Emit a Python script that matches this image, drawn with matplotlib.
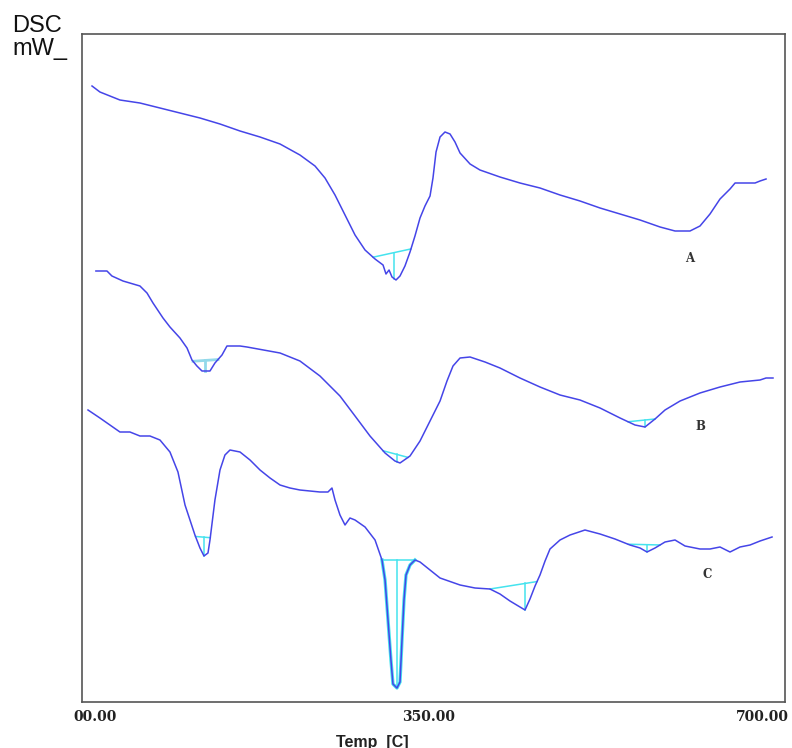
import numpy as np
import matplotlib
matplotlib.use("Agg")
from matplotlib import pyplot as plt

# temperatures (C) and DSC signal (arbitrary units, offset per trace)
temp_a = [-3.1, 5.2, 15.7, 26.2, 47.2, 68.2, 89.2, 110.2, 131.2, 152.2, 173.2, 194.2,
          215.1, 230.9, 241.4, 251.9, 262.4, 272.9, 283.4, 293.9, 302.3, 305.4, 308.6,
          311.7, 315.9, 320.1, 325.3, 330.6, 335.8, 341.1, 346.3, 351.6, 354.7, 357.9,
          362.1, 367.3, 372.6, 377.8, 383.1, 393.6, 404.0, 425.0, 446.0, 467.0, 488.0,
          509.0, 530.0, 551.0, 572.0, 593.0, 608.7, 624.4, 634.9, 645.4, 655.9, 666.4,
          671.7, 692.7, 697.9, 704.2]
sig_a = [616, 610, 606, 602, 599, 594, 589, 584, 578, 571, 565, 558,
         547, 536, 524, 507, 487, 467, 452, 443, 437, 428, 432,
         425, 422, 426, 436, 450, 466, 484, 496, 506, 524, 550,
         565, 570, 568, 560, 549, 538, 532, 525, 519, 514, 507,
         501, 494, 488, 482, 475, 471, 471, 476, 488, 503, 513,
         519, 519, 521, 523]

temp_b = [1.0, 12.6, 17.8, 29.4, 47.2, 54.6, 60.9, 71.4, 78.7, 89.2, 96.6, 101.8,
          107.0, 112.3, 120.7, 125.9, 133.3, 138.5, 152.2, 159.5, 194.2, 215.1, 236.1,
          257.1, 272.9, 288.6, 304.4, 314.8, 320.1, 330.6, 341.1, 351.6, 362.1, 369.4,
          375.7, 383.1, 393.6, 409.3, 425.0, 446.0, 467.0, 488.0, 509.0, 530.0, 551.0,
          566.7, 577.2, 587.7, 598.2, 614.0, 634.9, 655.9, 676.9, 697.9, 704.2, 711.5]
sig_b = [431, 431, 426, 421, 416, 409, 399, 384, 375, 364, 354, 342,
         336, 331, 331, 339, 347, 356, 356, 355, 349, 341, 326,
         306, 286, 266, 249, 241, 239, 246, 261, 281, 301, 321,
         336, 344, 345, 340, 334, 324, 315, 307, 302, 294, 284,
         277, 275, 283, 292, 301, 309, 315, 320, 322, 324, 324]

temp_c = [-7.3, 5.2, 15.7, 26.2, 36.7, 47.2, 57.7, 68.2, 78.7, 87.1, 94.5, 99.7,
          104.9, 110.2, 114.4, 118.6, 120.7, 125.9, 131.2, 136.4, 141.7, 152.2, 162.7,
          173.2, 183.7, 194.2, 204.6, 215.1, 236.1, 244.5, 248.7, 251.9, 257.1, 262.4,
          267.6, 272.9, 283.4, 293.9, 301.2, 304.4, 307.5, 310.6, 312.7, 316.9, 320.1,
          322.2, 324.3, 326.4, 330.6, 335.8, 341.1, 351.6, 362.1, 383.1, 398.8, 414.5,
          425.0, 435.5, 446.0, 451.3, 456.5, 461.8, 467.0, 472.3, 477.5, 488.0, 498.5,
          514.2, 530.0, 545.7, 561.4, 572.0, 579.3, 587.7, 598.2, 608.7, 619.2, 634.9,
          645.4, 655.9, 666.4, 676.9, 687.4, 697.9, 710.5]
sig_c = [292, 284, 277, 270, 270, 266, 266, 262, 250, 230, 197, 182,
         167, 154, 146, 149, 162, 202, 232, 247, 252, 250, 242,
         232, 224, 217, 214, 212, 210, 210, 214, 202, 187, 177,
         184, 182, 175, 162, 142, 122, 82, 42, 18, 14, 20,
         62, 102, 127, 137, 142, 140, 132, 124, 117, 114, 113,
         108, 101, 95, 92, 103, 116, 127, 141, 153, 162, 167,
         172, 168, 163, 157, 154, 150, 154, 160, 162, 156, 153,
         153, 155, 150, 155, 157, 161, 165]

# integrated peaks: (trace, onset, endset, peak temperature)
peaks = [
    ("A", 291.8, 331.6, 313.8),
    ("B", 102.9, 129.1, 115.4),
    ("B", 302.3, 328.5, 316.9),
    ("B", 559.4, 587.7, 577.2),
    ("C", 105.5, 121.0, 114.4),
    ("C", 301.2, 335.8, 316.9),
    ("C", 414.5, 463.9, 451.3),
    ("C", 559.4, 593.0, 579.3),
]

trace_labels = {"A": (624.4, 444), "B": (634.9, 276), "C": (642.3, 128)}

curves = {"A": (temp_a, sig_a), "B": (temp_b, sig_b), "C": (temp_c, sig_c)}

blue = "#4545e8"
cyan = "#45e3ee"

fig = plt.figure(figsize=(7.92, 7.48), dpi=100)
ax = fig.add_axes([82 / 792, 1 - 702 / 748, 703 / 792, 668 / 748])

for name, (t, s) in curves.items():
    ax.plot(t, s, color=blue, lw=1.1, zorder=3)

for name, t0, t1, tp in peaks:
    t, s = curves[name]
    y0 = np.interp(t0, t, s)
    y1 = np.interp(t1, t, s)
    color = "#93d9ea" if (name == "B" and tp < 200) else cyan
    lw = 2.0 if (name == "B" and tp < 200) else 1.1
    ax.plot([t0, t1], [y0, y1], color=color, lw=lw, zorder=2)
    yb = np.interp(tp, [t0, t1], [y0, y1])
    ax.plot([tp, tp], [yb, np.interp(tp, t, s)], color=color, lw=lw, zorder=2)
    if name == "C" and 300 < tp < 340:
        tt = np.array(t)
        mask = (tt >= t0) & (tt <= t1)
        ax.plot(tt[mask], np.array(s)[mask], color=cyan, lw=2.4, zorder=2)

for name, (x, y) in trace_labels.items():
    ax.text(x, y, name, fontsize=8.5, family="DejaVu Serif", fontweight="bold",
            color="#333333", ha="center", va="center")

ax.set_xlim(-13.6, 724.1)
ax.set_ylim(0, 668)
ax.set_yticks([])
ax.set_xticks([0, 350, 700])
ax.set_xticklabels(["00.00", "350.00", "700.00"], family="DejaVu Serif",
                   fontweight="bold", fontsize=10, color="#222222")
ax.tick_params(axis="x", length=0, pad=6)
for sp in ax.spines.values():
    sp.set_color("#555555")
    sp.set_linewidth(1.2)

fig.text(372 / 792, 1 - 742 / 748, "Temp  [C]", family="Liberation Sans",
         fontweight="bold", fontsize=11.5, ha="center", va="center", color="#222222")
fig.text(12 / 792, 1 - 32 / 748, "DSC", family="Liberation Sans", fontsize=17,
         ha="left", va="baseline", color="#111111")
fig.text(12 / 792, 1 - 55 / 748, "mW_", family="Liberation Sans", fontsize=17,
         ha="left", va="baseline", color="#111111")

fig.savefig("out.png", dpi=100)
